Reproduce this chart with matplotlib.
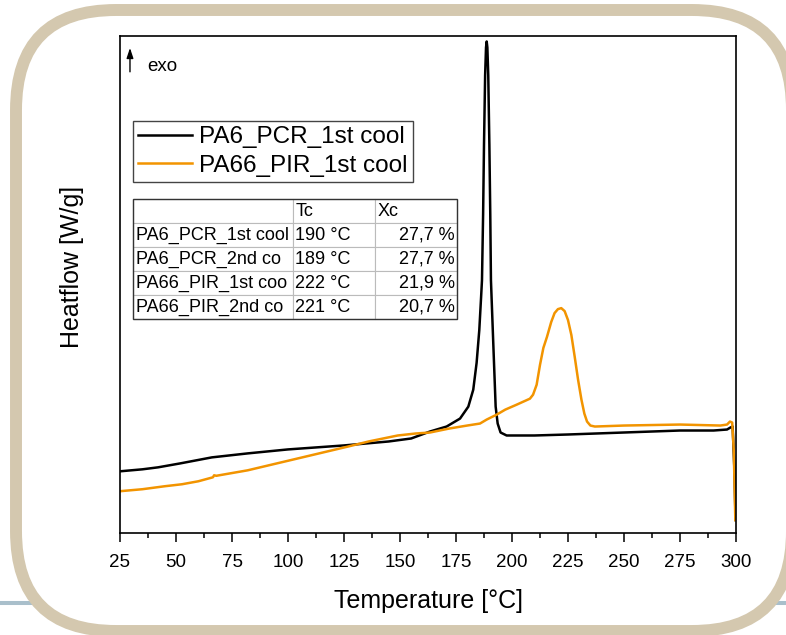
import numpy as np
import matplotlib.pyplot as plt
from matplotlib.patches import FancyBboxPatch, Rectangle
from matplotlib.lines import Line2D
from matplotlib.ticker import MultipleLocator
from matplotlib.transforms import IdentityTransform

plt.rcParams['font.family'] = ['Liberation Sans', 'DejaVu Sans']

# DSC cooling curves, heatflow in arbitrary units (no y scale shown)
t_pcr = [25, 35, 42, 52, 66, 82, 100, 125, 145, 155, 163.4, 170.8, 176.8, 180.5, 182.7,
         184.2, 185.4, 186.2, 186.6, 187.1, 187.5, 188.0, 188.4, 188.7, 189.0, 189.4,
         189.9, 190.3, 190.6, 191.7, 192.7, 193.6, 194.9, 197.6, 210, 225, 250,
         275, 290, 296, 297.5, 298.5, 299.3, 299.8]
hf_pcr = [0.62, 0.64, 0.66, 0.70, 0.76, 0.80, 0.84, 0.88, 0.92, 0.95, 1.02, 1.07, 1.15, 1.27, 1.44,
          1.71, 2.04, 2.37, 2.54, 3.20, 3.90, 4.60, 4.88, 4.94, 4.88, 4.60,
          3.90, 3.20, 2.54, 1.87, 1.27, 1.10, 1.01, 0.98, 0.98, 0.99, 1.01,
          1.03, 1.03, 1.04, 1.06, 1.07, 0.63, 0.13]

t_pir = [25, 35, 45, 52.7, 60, 66.5, 67, 68, 82, 97, 112, 127, 136, 149, 157, 163.4, 172,
         180, 185.7, 188.7, 193.2, 197, 202.1, 208, 209.4, 211, 212.5, 214, 215.6, 217.5, 219,
         220.5, 222, 223.5, 225, 226.5, 228, 229.5, 231, 232.3, 233.5, 235, 237, 250,
         275, 293, 296, 297.3, 298.3, 299, 299.7]
hf_pir = [0.42, 0.44, 0.47, 0.49, 0.52, 0.56, 0.58, 0.575, 0.63, 0.71, 0.79, 0.87, 0.92, 0.98, 1.00, 1.01, 1.05,
          1.08, 1.10, 1.14, 1.19, 1.24, 1.29, 1.35, 1.39, 1.49, 1.69, 1.86, 1.97, 2.12, 2.21,
          2.25, 2.26, 2.23, 2.14, 1.99, 1.77, 1.54, 1.34, 1.20, 1.12, 1.08, 1.07, 1.08,
          1.09, 1.08, 1.09, 1.12, 1.11, 0.83, 0.13]

series_names = ['PA6_PCR_1st cool', 'PA66_PIR_1st cool']

table_header = ['', 'Tc', 'Xc']
table_rows = [['PA6_PCR_1st cool', '190 °C', '27,7 %'],
              ['PA6_PCR_2nd co', '189 °C', '27,7 %'],
              ['PA66_PIR_1st coo', '222 °C', '21,9 %'],
              ['PA66_PIR_2nd co', '221 °C', '20,7 %']]

xticks = list(range(25, 301, 25))

fig = plt.figure(figsize=(7.86, 6.35), dpi=100)
H = 635

# slide decoration behind the rounded frame
fig.add_artist(Line2D([0, 786], [H - 603, H - 603], transform=IdentityTransform(),
                      color='#A9BFCB', lw=2.9, zorder=-3))
frame = FancyBboxPatch((16, H - 631), 776, 621, boxstyle='round,pad=0,rounding_size=100',
                       transform=IdentityTransform(), facecolor='white',
                       edgecolor='#D4C8AF', lw=8.6, zorder=-2)
fig.add_artist(frame)

ax = fig.add_axes([120 / 786, 1 - 533 / H, 616 / 786, 497.5 / H])
ax.plot(t_pcr, hf_pcr, color='black', lw=1.8, label=series_names[0])
ax.plot(t_pir, hf_pir, color='#F29400', lw=1.8, label=series_names[1])

ax.set_xlim(25, 300)
ax.set_ylim(0, 5.0)
ax.set_xticks(xticks)
ax.xaxis.set_minor_locator(MultipleLocator(12.5))
ax.set_yticks([])
ax.tick_params(axis='x', which='major', length=6.5, width=1.1, pad=8.5, labelsize=13.5)
ax.tick_params(axis='x', which='minor', length=3.6, width=1.1)
for s in ax.spines.values():
    s.set_linewidth(1.2)

ax.set_xlabel('Temperature [°C]', fontsize=18, labelpad=13)
ax.set_ylabel('Heatflow [W/g]', fontsize=18)
ax.yaxis.set_label_coords(-0.058, 0.535)

# exo arrow
ax.annotate('', xy=(0.0162, 0.975), xytext=(0.0162, 0.927), xycoords='axes fraction',
            arrowprops=dict(arrowstyle='-|>,head_length=0.6,head_width=0.2', color='black',
                            lw=1, shrinkA=0, shrinkB=0), annotation_clip=False)
ax.text(0.044, 0.937, 'exo', transform=ax.transAxes, fontsize=13.5, ha='left', va='center')

leg = ax.legend(loc='upper left', bbox_to_anchor=(0.021, 0.828), borderaxespad=0,
                fontsize=17.5, frameon=True, fancybox=False, framealpha=1,
                edgecolor='#444444', handlelength=2.2, handletextpad=0.3,
                borderpad=0.22, labelspacing=0.25)
leg.get_frame().set_linewidth(1.0)

# results table
tx0, tx1 = (133 - 120) / 616, (457 - 120) / 616
ty1, ty0 = (533 - 199) / 497.5, (533 - 319) / 497.5
tbl = ax.table(cellText=[table_header] + table_rows,
               colWidths=[160, 82, 82], cellLoc='left',
               bbox=[tx0, ty0, tx1 - tx0, ty1 - ty0])
tbl.auto_set_font_size(False)
tbl.set_fontsize(13)
for (r, c), cell in tbl.get_celld().items():
    cell.set_edgecolor('#BBBBBB')
    cell.set_linewidth(0.8)
    cell.PAD = 0.02 if c == 0 else 0.03
    if c == 2 and r > 0:
        cell.get_text().set_ha('right')
ax.add_patch(Rectangle((tx0, ty0), tx1 - tx0, ty1 - ty0, transform=ax.transAxes,
                       fill=False, edgecolor='#333333', lw=1.0, zorder=5))

fig.savefig('out.png', dpi=100)
